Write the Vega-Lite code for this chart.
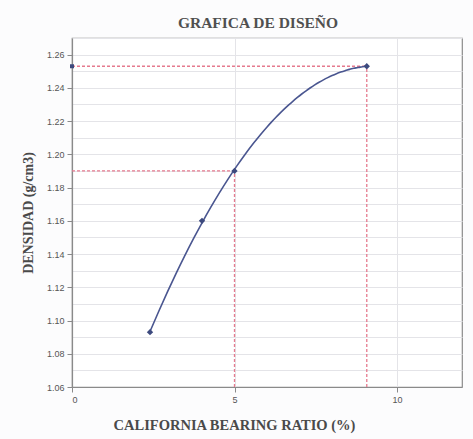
{
  "$schema": "https://vega.github.io/schema/vega-lite/v6.json",
  "width": 390,
  "height": 349,
  "autosize": {"type": "none"},
  "padding": {"left": 72, "top": 38, "right": 11, "bottom": 52},
  "background": "#fcfcfd",
  "title": {
    "text": "GRAFICA DE DISEÑO",
    "font": "Liberation Serif",
    "fontSize": 15.5,
    "fontWeight": "bold",
    "color": "#505050",
    "anchor": "middle",
    "dx": -9,
    "offset": 7
  },
  "datasets": {
    "ensayo": [
      {"cbr": 2.4, "dens": 1.093},
      {"cbr": 4.0, "dens": 1.16},
      {"cbr": 5.0, "dens": 1.19},
      {"cbr": 9.07, "dens": 1.253}
    ],
    "diseno": [
      {"cbr": 5.0, "dens": 1.19},
      {"cbr": 9.07, "dens": 1.253}
    ]
  },
  "config": {
    "view": {"stroke": "#8a8a8a", "strokeWidth": 1.2, "fill": "#ffffff"},
    "axis": {
      "labelFont": "Liberation Sans",
      "labelFontSize": 9,
      "labelColor": "#555555",
      "domainColor": "#8a8a8a",
      "domainWidth": 1.2,
      "tickColor": "#8a8a8a",
      "tickSize": 5,
      "gridColor": "#e4e4e8",
      "gridWidth": 1,
      "titleFont": "Liberation Serif",
      "titleFontWeight": "bold",
      "titleColor": "#4a4a4a"
    }
  },
  "encoding": {
    "x": {
      "field": "cbr",
      "type": "quantitative",
      "scale": {"domain": [0, 12], "nice": false, "zero": false},
      "axis": {
        "title": "CALIFORNIA BEARING RATIO  (%)",
        "titleFontSize": 14.5,
        "titleX": 162,
        "titleY": 38,
        "titleBaseline": "middle",
        "titleAlign": "center",
        "values": [0, 5, 10],
        "grid": true,
        "labelPadding": 3
      }
    },
    "y": {
      "field": "dens",
      "type": "quantitative",
      "scale": {"domain": [1.06, 1.27], "nice": false, "zero": false},
      "axis": {
        "title": "DENSIDAD (g/cm3)",
        "titleFontSize": 14,
        "titleX": -37,
        "titleBaseline": "bottom",
        "values": [1.06, 1.07, 1.08, 1.09, 1.1, 1.11, 1.12, 1.13, 1.14, 1.15, 1.16, 1.17, 1.18, 1.19, 1.2, 1.21, 1.22, 1.23, 1.24, 1.25, 1.26, 1.27],
        "labelExpr": "(round(datum.value*100) % 2 == 0 && datum.value < 1.265) ? format(datum.value, '.2f') : ''",
        "tickOpacity": {"condition": {"test": "round(datum.value*100) % 2 == 0 && datum.value < 1.265", "value": 1}, "value": 0},
        "grid": true,
        "labelPadding": 3
      }
    }
  },
  "layer": [
    {
      "data": {"name": "diseno"},
      "mark": {"type": "rule", "color": "#e57a8e", "strokeDash": [3, 2], "strokeWidth": 1.3},
      "encoding": {
        "x": {"datum": 0},
        "x2": {"field": "cbr"}
      }
    },
    {
      "data": {"name": "diseno"},
      "mark": {"type": "rule", "color": "#e57a8e", "strokeDash": [3, 2], "strokeWidth": 1.3},
      "encoding": {
        "y": {"datum": 1.06},
        "y2": {"field": "dens"}
      }
    },
    {
      "data": {"name": "ensayo"},
      "transform": [
        {"regression": "dens", "on": "cbr", "method": "poly", "order": 2}
      ],
      "mark": {"type": "line", "color": "#4a5690", "strokeWidth": 1.6, "interpolate": "monotone"},
      "encoding": {}
    },
    {
      "data": {"name": "ensayo"},
      "mark": {"type": "point", "shape": "diamond", "filled": true, "color": "#3d4a7e", "size": 40, "opacity": 1},
      "encoding": {}
    },
    {
      "data": {"name": "diseno"},
      "transform": [{"filter": "datum.dens > 1.2"}],
      "mark": {"type": "point", "shape": "square", "filled": true, "color": "#3d4a7e", "size": 16, "opacity": 1},
      "encoding": {"x": {"datum": 0}}
    }
  ]
}
